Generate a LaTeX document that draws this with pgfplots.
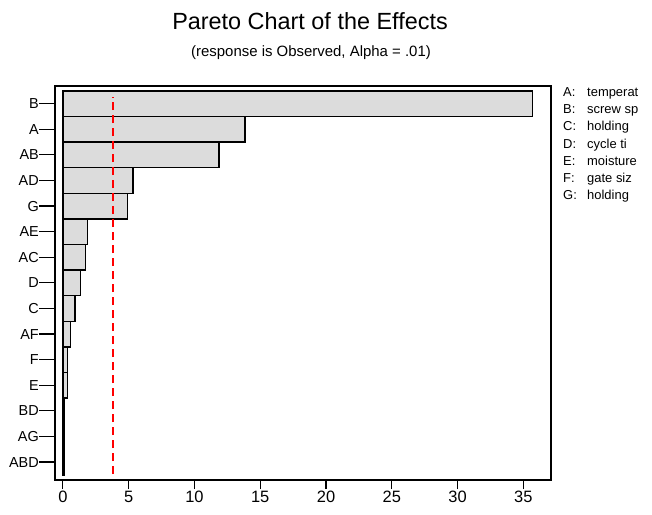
\documentclass[border=0pt]{standalone}
\usepackage{fontspec}
\setmainfont{Liberation Sans}
\usepackage{pgfplots}
\pgfplotsset{compat=1.18}
\definecolor{barfill}{HTML}{DCDCDC}
\begin{document}
\begin{tikzpicture}
\path[use as bounding box] (0,0) rectangle (652bp,515bp);
\node[anchor=base, font=\fontsize{23.5}{26}\selectfont, inner sep=0pt] at (310bp,485bp) {Pareto Chart of the Effects};
\node[anchor=base, font=\fontsize{15}{17}\selectfont, inner sep=0pt] at (311bp,458bp) {(response is Observed, Alpha = .01)};
\begin{axis}[
  at={(55bp,35bp)}, anchor=south west,
  scale only axis, width=496bp, height=394bp,
  xmin=-0.6, xmax=37.1, ymin=-0.7, ymax=14.69,
  axis line style={line width=1.4bp},
  xtick={0,5,...,35},
  ytick={0,...,14},
  yticklabels={ABD,AG,BD,E,F,AF,C,D,AC,AE,G,AD,AB,A,B},
  tick align=outside, major tick length=9bp,
  every tick/.style={black, line width=1.2bp},
  xtick pos=bottom, ytick pos=left,
  /pgf/number format/assume math mode=true,
  xticklabel style={font=\fontsize{16.5}{18}\selectfont, inner sep=0pt, yshift=-2bp},
  yticklabel style={font=\fontsize{14.5}{16}\selectfont, inner sep=0pt, xshift=-7bp},
  ytick style={draw=none},
  clip=false,
]
\addplot[xbar, bar width=1, fill=barfill, draw=black, line width=1.3bp] coordinates {
(0.08,0) (0.1,1) (0.12,2) (0.33,3) (0.34,4) (0.58,5) (0.91,6) (1.34,7)
(1.7,8) (1.85,9) (4.9,10) (5.33,11) (11.87,12) (13.85,13) (35.7,14)};
\addplot[sharp plot, no marks, red, line width=1.3bp, dash pattern=on 8bp off 5bp] coordinates {(3.8,-0.47) (3.8,14.26)};
\pgfplotsinvokeforeach{0,...,14}{
  \draw[line width=1.2bp] (axis cs:-0.6,#1) -- ([xshift=-16bp]axis cs:-0.6,#1);
}
\end{axis}
\begin{scope}[every node/.style={anchor=base west, inner sep=0pt, font=\fontsize{13}{15}\selectfont}]
\node at (563bp,418.5bp) {\makebox[24bp][l]{A:}temperat};
\node at (563bp,401.3bp) {\makebox[24bp][l]{B:}screw sp};
\node at (563bp,384.1bp) {\makebox[24bp][l]{C:}holding};
\node at (563bp,366.9bp) {\makebox[24bp][l]{D:}cycle ti};
\node at (563bp,349.7bp) {\makebox[24bp][l]{E:}moisture};
\node at (563bp,332.5bp) {\makebox[24bp][l]{F:}gate siz};
\node at (563bp,315.3bp) {\makebox[24bp][l]{G:}holding};
\end{scope}
\end{tikzpicture}
\end{document}
